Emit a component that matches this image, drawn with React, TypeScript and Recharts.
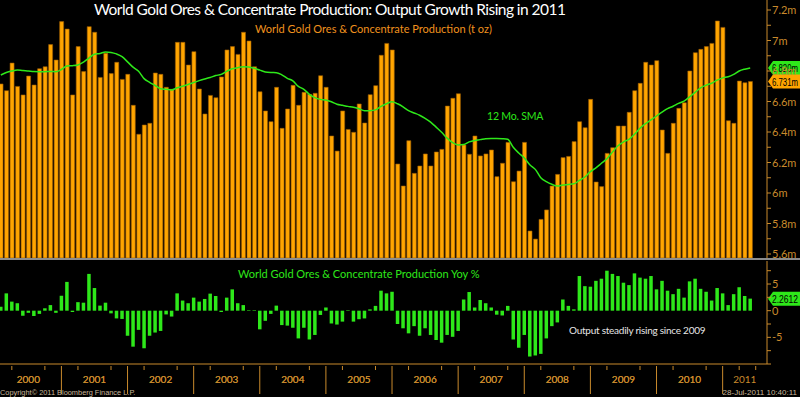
import React from 'react';
import { ComposedChart, Bar, Line, XAxis, YAxis, ReferenceLine } from 'recharts';

// monthly, Jan 2000 .. May 2011 (t oz, millions)
const production = [
  6.715, 6.671, 6.852, 6.699, 6.643, 6.767, 6.708, 6.815, 6.828, 6.973, 6.872, 7.124,
  7.075, 6.643, 6.960, 6.796, 7.091, 7.054, 6.758, 6.916, 6.783, 6.857, 6.745, 6.778,
  6.575, 6.385, 6.446, 6.457, 6.787, 6.778, 6.693, 6.680, 6.988, 6.988, 6.839, 6.927,
  6.682, 6.518, 6.640, 6.625, 6.761, 6.938, 6.960, 6.909, 7.054, 6.997, 6.828, 6.664,
  6.538, 6.468, 6.693, 6.424, 6.551, 6.706, 6.575, 6.660, 6.647, 6.654, 6.769, 6.693,
  6.374, 6.275, 6.538, 6.417, 6.398, 6.584, 6.459, 6.645, 6.704, 6.903, 6.981, 6.938,
  6.190, 6.046, 6.343, 6.129, 6.177, 6.256, 6.177, 6.269, 6.286, 6.570, 6.621, 6.651,
  6.315, 6.254, 6.374, 6.243, 6.256, 6.282, 6.107, 6.195, 6.332, 6.074, 6.144, 6.332,
  5.751, 5.698, 5.827, 5.889, 6.046, 6.122, 6.232, 6.240, 6.337, 6.468, 6.428, 6.614,
  6.072, 6.042, 6.260, 6.297, 6.439, 6.439, 6.529, 6.671, 6.719, 6.857, 6.839, 6.868,
  6.413, 6.260, 6.457, 6.555, 6.592, 6.800, 6.920, 6.942, 6.960, 6.981, 7.128, 7.086,
  6.474, 6.457, 6.734, 6.723, 6.731,
];

// 12 month simple moving average
const sma12 = [
  6.774, 6.790, 6.800, 6.807, 6.803, 6.800, 6.796, 6.795, 6.795, 6.797, 6.795, 6.810,
  6.833, 6.835, 6.840, 6.858, 6.885, 6.910, 6.915, 6.925, 6.922, 6.912, 6.894, 6.860,
  6.825, 6.798, 6.750, 6.726, 6.705, 6.684, 6.680, 6.676, 6.690, 6.700, 6.712, 6.725,
  6.737, 6.748, 6.758, 6.770, 6.778, 6.798, 6.815, 6.822, 6.828, 6.826, 6.818, 6.806,
  6.794, 6.790, 6.789, 6.775, 6.752, 6.735, 6.699, 6.680, 6.647, 6.625, 6.614, 6.610,
  6.598, 6.582, 6.575, 6.568, 6.562, 6.552, 6.540, 6.540, 6.545, 6.568, 6.585, 6.599,
  6.585, 6.565, 6.540, 6.525, 6.510, 6.490, 6.465, 6.432, 6.398, 6.360, 6.330, 6.315,
  6.318, 6.335, 6.345, 6.350, 6.356, 6.358, 6.358, 6.356, 6.352, 6.300, 6.262, 6.230,
  6.185, 6.155, 6.100, 6.075, 6.057, 6.046, 6.053, 6.056, 6.060, 6.083, 6.105, 6.140,
  6.165, 6.195, 6.225, 6.268, 6.310, 6.335, 6.352, 6.385, 6.425, 6.455, 6.480, 6.505,
  6.530, 6.553, 6.569, 6.588, 6.603, 6.630, 6.660, 6.690, 6.707, 6.720, 6.740, 6.755,
  6.762, 6.778, 6.800, 6.812, 6.820,
];

// year over year %
const yoy = [
  0.75, 3.25, 1.7, 1.4, -0.95, -0.4, -1.0, -0.6, 0.45, 1.05, -0.4, 2.8,
  5.4, -0.25, 1.6, 1.5, 6.9, 4.25, 0.95, 1.5, -0.5, -1.45, -1.55, -4.7,
  -6.75, -3.6, -7.05, -4.7, -4.1, -3.8, -0.7, -1.1, 3.25, 1.9, 1.4, 2.45,
  1.7, 2.2, 3.2, 2.75, -0.25, 2.45, 4.0, 1.4, 1.05, 0.1, 0.1, -3.5,
  -1.9, -0.6, 0.95, -2.7, -2.8, -3.2, -5.2, -3.2, -5.4, -4.55, -0.8, 0.6,
  -2.4, -2.6, -2.05, 0.1, -2.05, -1.6, -1.45, 0.25, 0.9, 3.75, 3.25, 3.55,
  -2.5, -3.3, -4.25, -2.9, -4.7, -3.3, -4.55, -5.5, -6.0, -4.55, -4.9, -3.8,
  2.1, 3.5, 0.6, 2.0, 1.4, 0.6, -0.75, -0.9, 0.9, -5.4, -6.95, -4.55,
  -8.6, -8.4, -8.1, -5.2, -2.9, -2.2, 2.1, 0.9, 0.25, 6.5, 4.6, 4.5,
  5.6, 6.0, 7.5, 6.9, 6.5, 5.25, 4.8, 7.0, 6.2, 6.0, 6.5, 4.0,
  5.6, 3.75, 3.1, 4.1, 2.45, 5.5, 6.0, 4.1, 3.55, 1.9, 4.25, 3.25,
  1.05, 3.1, 4.4, 2.75, 2.2612,
];

const years = ['2000', '2001', '2002', '2003', '2004', '2005', '2006', '2007', '2008', '2009', '2010', '2011'];

const prodTicks = [5.6, 5.7, 5.8, 5.9, 6.0, 6.1, 6.2, 6.3, 6.4, 6.5, 6.6, 6.7, 6.8, 6.9, 7.0, 7.1, 7.2];
const yoyTicks = [-10, -7.5, -5, -2.5, 0, 2.5, 5, 7.5];

const data = production.map((p, i) => ({ i, prod: p, sma: sma12[i], yoy: yoy[i] }));

const X_DOMAIN: [number, number] = [-0.145, 139.05];
const AXIS = '#c98a2c';
const ORANGE = '#ffa500';
const GREEN = '#2ee81a';
const FONT = 'Lato, "Liberation Sans", sans-serif';
const NARROW = '"Liberation Sans Narrow", "Liberation Sans", sans-serif';

// quarter boundaries (bars sit at month end), plus mid-year label slots
const quarterTicks: number[] = [];
for (let q = 1; 3 * q - 1 < X_DOMAIN[1]; q++) quarterTicks.push(3 * q - 1);
const labelTicks = years.map((_, k) => Math.min(12 * k + 5, (12 * k - 1 + X_DOMAIN[1]) / 2));
const xTicks = [...quarterTicks, ...labelTicks].sort((a, b) => a - b);

const ProdTick = (props: any) => {
  const { x, y, payload } = props;
  const v = Math.round(payload.value * 10);
  if (v % 2 !== 0) return null;
  const label = (v % 10 === 0 ? String(v / 10) : (v / 10).toFixed(1)) + 'm';
  return (
    <text x={x} y={y} dy={4} fill={AXIS} fontSize={11} fontFamily={FONT} textAnchor="start">{label}</text>
  );
};

const YoyTick = (props: any) => {
  const { x, y, payload } = props;
  const v = payload.value;
  if (v % 5 !== 0 || v === -10) return null;
  return (
    <text x={x} y={y} dy={4} fill={AXIS} fontSize={11} fontFamily={FONT} textAnchor="start">{String(v)}</text>
  );
};

const YearTick = (props: any) => {
  const { x, y, payload } = props;
  const v = payload.value;
  const k = labelTicks.indexOf(v);
  if (k >= 0) {
    return (
      <text x={x} y={y + 17} fill={AXIS} fontSize={10} fontFamily={FONT} textAnchor="middle">{years[k]}</text>
    );
  }
  const isYear = (v + 1) % 12 === 0;
  return <line x1={x} x2={x} y1={y} y2={y + (isYear ? 28 : 4)} stroke={AXIS} strokeWidth={1} />;
};

// last-value tag pinned to the right axis
const tag = (text: string, bg: string) => (props: any) => {
  const vb = props.viewBox || {};
  const x = (vb.x || 0) + (vb.width || 0) + 1;
  const y = vb.y || 0;
  const w = 32;
  return (
    <g>
      <polygon points={`${x},${y} ${x + 5},${y - 7} ${x + w},${y - 7} ${x + w},${y + 7} ${x + 5},${y + 7}`} fill={bg} />
      <text x={x + 4} y={y + 4} fontSize={10} fontFamily={NARROW} fill="#000"
        textLength={w - 6} lengthAdjust="spacingAndGlyphs">{text}</text>
    </g>
  );
};

const txt = (s: React.CSSProperties): React.CSSProperties => ({
  position: 'absolute', whiteSpace: 'nowrap', fontFamily: FONT, lineHeight: 1, ...s,
});

export default function App() {
  return (
    <div style={{ position: 'absolute', left: 0, top: 0, width: 800, height: 397, background: '#000', overflow: 'hidden' }}>
      <div style={{ position: 'absolute', left: 0, top: 0 }}>
        <ComposedChart width={800} height={259} data={data} margin={{ top: 0, right: 0, bottom: 1, left: 0 }}>
          <XAxis type="number" dataKey="i" domain={X_DOMAIN} allowDataOverflow hide />
          <YAxis
            orientation="right"
            width={33}
            domain={[5.5738, 7.2656]}
            allowDataOverflow
            ticks={prodTicks}
            interval={0}
            tick={<ProdTick />}
            tickSize={4}
            tickMargin={1}
            axisLine={{ stroke: AXIS }}
            tickLine={{ stroke: AXIS }}
          />
          <Bar dataKey="prod" fill={ORANGE} stroke="#9a5a00" strokeWidth={0.6} barSize={4} isAnimationActive={false} />
          <Line dataKey="sma" type="monotone" stroke={GREEN} strokeWidth={1.5} dot={false} activeDot={false} isAnimationActive={false} />
          <ReferenceLine y={sma12[sma12.length - 1]} stroke="none" ifOverflow="visible"
            label={{ content: tag(sma12[sma12.length - 1].toFixed(3) + 'm', GREEN) as any }} />
          <ReferenceLine y={production[production.length - 1]} stroke="none" ifOverflow="visible"
            label={{ content: tag(production[production.length - 1].toFixed(3) + 'm', ORANGE) as any }} />
        </ComposedChart>
      </div>

      <div style={{ position: 'absolute', left: 0, top: 258, width: 800, height: 2, background: '#8c8c8c' }} />

      <div style={{ position: 'absolute', left: 0, top: 261 }}>
        <ComposedChart width={800} height={136} data={data} margin={{ top: 0, right: 0, bottom: 0, left: 0 }}>
          <XAxis
            type="number"
            dataKey="i"
            domain={X_DOMAIN}
            allowDataOverflow
            ticks={xTicks}
            interval={0}
            height={33}
            tick={<YearTick />}
            tickLine={false}
            tickSize={0}
            axisLine={{ stroke: AXIS }}
          />
          <YAxis
            orientation="right"
            width={33}
            domain={[-10, 9.32]}
            allowDataOverflow
            ticks={yoyTicks}
            interval={0}
            tick={<YoyTick />}
            tickSize={4}
            tickMargin={1}
            axisLine={{ stroke: AXIS }}
            tickLine={{ stroke: AXIS }}
          />
          <Bar dataKey="yoy" fill={GREEN} barSize={3.5} isAnimationActive={false} />
          <ReferenceLine y={yoy[yoy.length - 1]} stroke="none" ifOverflow="visible"
            label={{ content: tag(yoy[yoy.length - 1].toFixed(4), GREEN) as any }} />
        </ComposedChart>
      </div>

      <div style={txt({ left: 94, top: 2, fontSize: 15.5, letterSpacing: -0.55, color: '#fff' })}>
        World Gold Ores &amp; Concentrate Production: Output Growth Rising in 2011
      </div>
      <div style={txt({ left: 255, top: 23, fontSize: 11, color: '#f0921e' })}>
        World Gold Ores &amp; Concentrate Production (t oz)
      </div>
      <div style={txt({ left: 487, top: 111, fontSize: 10.5, letterSpacing: -0.2, color: GREEN })}>12 Mo. SMA</div>
      <div style={txt({ left: 238, top: 268, fontSize: 11, color: GREEN })}>
        World Gold Ores &amp; Concentrate Production Yoy %
      </div>
      <div style={txt({ left: 569, top: 325, fontSize: 10, letterSpacing: -0.25, color: '#e6e6e6' })}>Output steadily rising since 2009</div>
      <div style={txt({ left: 0, top: 389, fontSize: 7.4, color: '#c8b69a', fontFamily: '"Liberation Sans", sans-serif' })}>
        Copyright© 2011 Bloomberg Finance L.P.
      </div>
      <div style={txt({ right: 3, top: 389, fontSize: 8, color: '#c8b69a', fontFamily: '"Liberation Sans", sans-serif' })}>
        28-Jul-2011 10:40:11
      </div>
    </div>
  );
}
